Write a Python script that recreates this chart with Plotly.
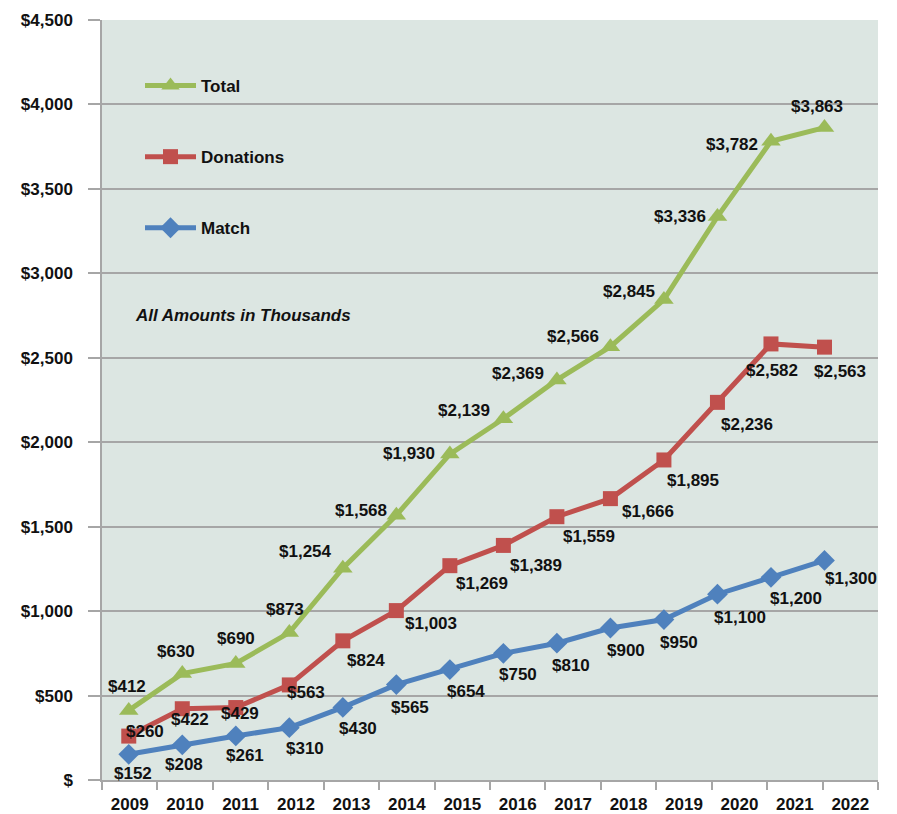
import plotly.graph_objects as go

years = ["2009", "2010", "2011", "2012", "2013", "2014", "2015",
         "2016", "2017", "2018", "2019", "2020", "2021", "2022"]
total = [412, 630, 690, 873, 1254, 1568, 1930, 2139, 2369, 2566, 2845, 3336, 3782, 3863]
donations = [260, 422, 429, 563, 824, 1003, 1269, 1389, 1559, 1666, 1895, 2236, 2582, 2563]
match = [152, 208, 261, 310, 430, 565, 654, 750, 810, 900, 950, 1100, 1200, 1300]
y_ticks = [0, 500, 1000, 1500, 2000, 2500, 3000, 3500, 4000, 4500]
y_tick_text = ["$", "$500", "$1,000", "$1,500", "$2,000", "$2,500", "$3,000",
               "$3,500", "$4,000", "$4,500"]

FONT = "Liberation Sans, Arial, sans-serif"
FS = 17
GREEN, RED, BLUE = "#9bbb59", "#c0504d", "#4f81bd"
GRID = "#a6a6a6"
TXT = "#111111"

# label offsets (pixels, label centre relative to point)
tot_off = [(-2, -24), (-6, -22), (0, -25), (-4, -23), (-37, -17), (-35, -5), (-41, -1),
           (-39, -8), (-39, -6), (-37, -10), (-35, -8), (-37, 0), (-39, 3), (-7, -21)]
don_off = [(16, -5), (8, 11), (4, 6), (17, 8), (23, 20), (35, 13), (32, 18),
           (33, 20), (32, 20), (38, 13), (29, 21), (30, 22), (1, 27), (16, 24)]
mat_off = [(4, 19), (2, 20), (9, 20), (16, 21), (15, 21), (14, 23), (16, 22),
           (15, 21), (14, 22), (16, 22), (15, 23), (23, 23), (25, 21), (27, 18)]

idx = list(range(len(years)))

fig = go.Figure()
series = [
    ("Total", total, GREEN, "triangle-up", 17, tot_off, 1),
    ("Donations", donations, RED, "square", 15, don_off, 2),
    ("Match", match, BLUE, "diamond", 16, mat_off, 3),
]
for name, vals, color, sym, msize, offs, rank in reversed(series):
    fig.add_trace(go.Scatter(
        x=idx, y=vals, name=name, mode="lines+markers",
        line=dict(color=color, width=5),
        marker=dict(symbol=sym, size=msize, color=color),
        legendgroup=name, legendrank=rank,
        hoverinfo="skip",
    ))
    for i, v in enumerate(vals):
        dx, dy = offs[i]
        fig.add_annotation(
            x=i, y=v, xref="x", yref="y", text="${:,}".format(v),
            showarrow=False, xshift=dx, yshift=-dy,
            xanchor="center", yanchor="middle",
            font=dict(family=FONT, size=FS, color=TXT, weight="bold"),
        )

# helper empty trace for category label axis
fig.add_trace(go.Scatter(x=[], y=[], xaxis="x2", showlegend=False, hoverinfo="skip"))

fig.add_annotation(
    x=(243 - 102) / 776, y=(780 - 315) / 760, xref="paper", yref="paper",
    text="<i>All Amounts in Thousands</i>", showarrow=False,
    xanchor="center", yanchor="middle",
    font=dict(family=FONT, size=FS, color=TXT, weight="bold"),
)

# page body adds an 8px offset; figure is sized so the plot lands at x 102-878, y 20-780
fig.update_layout(
    width=889, height=806,
    margin=dict(l=94, r=19, t=12, b=34),
    paper_bgcolor="white",
    plot_bgcolor="#dce6e2",
    font=dict(family=FONT, size=FS, color=TXT),
    showlegend=True,
    legend=dict(
        x=(140 - 102) / 776, y=(780 - 68) / 760, xanchor="left", yanchor="top",
        bgcolor="rgba(0,0,0,0)", tracegroupgap=46, itemwidth=51,
        font=dict(family=FONT, size=FS, color=TXT, weight="bold"),
        traceorder="grouped",
    ),
    xaxis=dict(
        range=[-0.5, 14.0], showgrid=False, zeroline=False, showline=False,
        showticklabels=False, ticks="", fixedrange=True, automargin=False,
    ),
    xaxis2=dict(
        overlaying="x", anchor="y", side="bottom", automargin=False,
        range=[-0.5, 13.5], tickmode="array", tickvals=idx, ticktext=years,
        ticks="", showgrid=False, zeroline=False,
        showline=True, linecolor=GRID, linewidth=1.5,
        ticklabelstandoff=8,
        tickfont=dict(family=FONT, size=FS, color=TXT, weight="bold"),
        minor=dict(tick0=-0.5, dtick=1, ticks="outside", ticklen=8,
                   tickcolor=GRID, tickwidth=1.5, showgrid=False),
    ),
    yaxis=dict(
        range=[0, 4500], tickmode="array", tickvals=y_ticks, ticktext=y_tick_text,
        showgrid=True, gridcolor=GRID, gridwidth=1.5, zeroline=False,
        showline=True, linecolor=GRID, linewidth=1.5, automargin=False,
        ticks="outside", ticklen=12, tickcolor=GRID, tickwidth=1.5,
        ticklabelstandoff=12,
        tickfont=dict(family=FONT, size=FS, color=TXT, weight="bold"),
    ),
)

fig.write_html("out.html")
